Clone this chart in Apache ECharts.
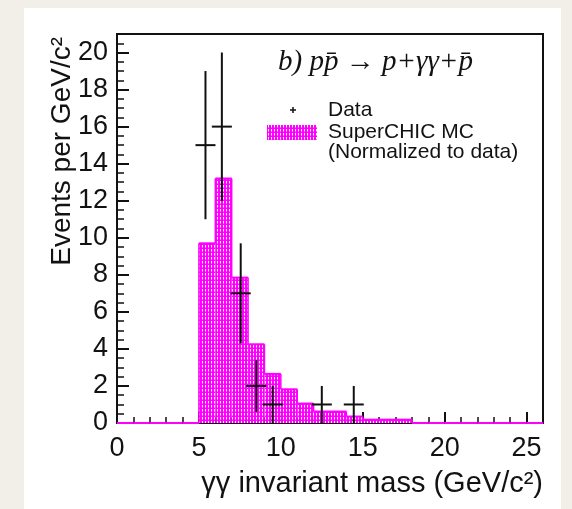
<!DOCTYPE html>
<html><head><meta charset="utf-8">
<script src="https://cdn.jsdelivr.net/npm/echarts@6/dist/echarts.min.js"></script>
<style>
html,body{margin:0;padding:0;background:#f2efe9;width:572px;height:509px;overflow:hidden;}
#panel{position:absolute;left:24px;top:8px;width:537px;height:501px;background:#fff;}
#chart{position:absolute;left:0;top:0;width:572px;height:509px;}
</style></head><body>
<div id="panel"></div><div id="chart"></div>
<script>
// ---- data ----
const mcBinLow  = [0,1,2,3,4,5,6,7,8,9,10,11,12,13,14,15,16,17,18,19,20,21,22,23,24,25];
const mcBinHigh = [1,2,3,4,5,6,7,8,9,10,11,12,13,14,15,16,17,18,19,20,21,22,23,24,25,26];
const mcValues  = [0,0,0,0,0,9.7,13.2,7.85,4.25,2.65,1.82,1.05,0.62,0.62,0.35,0.18,0.18,0.18,0,0,0,0,0,0,0,0];
const dataMass   = [5.4,6.4,7.55,8.5,9.5,12.5,14.45];
const dataEvents = [15,16,7,2,1,1,1];
const dataErrors = [4,4,2.7,1.4,1,1,1];
const xTitle = 'γγ invariant mass (GeV/c²)';
const yTitle = 'Events per GeV/c²';
const plotTitle = 'b) pp\u0304 \u2192 p+γγ+p\u0304';
const legendData = 'Data';
const legendMC = ['SuperCHIC MC', '(Normalized to data)'];

const MAG = '#ff00ff';
const pc = document.createElement('canvas'); pc.width = 3; pc.height = 4;
const g = pc.getContext('2d');
g.fillStyle = MAG; g.fillRect(0,0,3,4);
g.fillStyle = '#ffffff'; g.fillRect(1,1,1,2);
g.fillStyle = 'rgba(255,255,255,0.45)'; g.fillRect(1,3,1,1);
const pattern = {image: pc, repeat: 'repeat'};

const FONT = '"Liberation Sans", Arial, Helvetica, sans-serif';
const TXT = '#121212';
const chart = echarts.init(document.getElementById('chart'), null, {renderer:'canvas'});

const histData = mcValues.map((v,i) => [mcBinLow[i], mcBinHigh[i], v]);
const ptsData = dataMass.map((m,i) => [m, dataEvents[i], dataErrors[i]]);

chart.setOption({
  backgroundColor: 'transparent',
  animation: false,
  grid: {left:117, top:34, right:29, bottom:86, show:true, borderColor:'#111', borderWidth:2, backgroundColor:'transparent', containLabel:false},
  xAxis: [
    {type:'value', min:0, max:26, interval:5, position:'bottom',
     axisLine:{show:true, onZero:false, lineStyle:{color:'#111', width:2}},
     axisTick:{show:true, inside:true, length:11, lineStyle:{color:'#111', width:2}},
     axisLabel:{showMaxLabel:false, fontSize:27, fontFamily:FONT, color:TXT, margin:12},
     splitLine:{show:false}},
    {type:'value', min:0, max:26, interval:1, position:'bottom',
     axisLine:{show:false, onZero:false},
     axisTick:{show:true, inside:true, length:6, lineStyle:{color:'#111', width:1.5}},
     axisLabel:{show:false}, splitLine:{show:false}}
  ],
  yAxis: [
    {type:'value', min:0, max:21, interval:2, position:'left',
     axisLine:{show:true, onZero:false, lineStyle:{color:'#111', width:2}},
     axisTick:{show:true, inside:true, length:12, lineStyle:{color:'#111', width:2}},
     axisLabel:{showMaxLabel:false, fontSize:27, fontFamily:FONT, color:TXT, margin:9},
     splitLine:{show:false}},
    {type:'value', min:0, max:21, interval:0.5, position:'left',
     axisLine:{show:false, onZero:false},
     axisTick:{show:true, inside:true, length:7, lineStyle:{color:'#111', width:1.5}},
     axisLabel:{show:false}, splitLine:{show:false}}
  ],
  series: [
    {name:'SuperCHIC MC', type:'custom', xAxisIndex:0, yAxisIndex:0, data: histData, z:3,
     renderItem: function(params, api){
       const x0 = api.value(0), x1 = api.value(1), y = api.value(2);
       const i = params.dataIndex;
       const prev = i > 0 ? mcValues[i-1] : 0;
       const pTop = api.coord([x0, y]);
       const pEnd = api.coord([x1, 0]);
       const pPrev = api.coord([x0, prev]);
       const children = [];
       if (y > 0) {
         children.push({type:'rect', shape:{x:pTop[0], y:pTop[1], width:pEnd[0]-pTop[0], height:pEnd[1]-pTop[1]}, style:{fill:pattern}});
       }
       children.push({type:'line', shape:{x1:pTop[0], y1:pTop[1], x2:pEnd[0], y2:pTop[1]}, style:{stroke:MAG, lineWidth:2}});
       if (prev !== y) {
         children.push({type:'line', shape:{x1:pTop[0], y1:pPrev[1], x2:pTop[0], y2:pTop[1]}, style:{stroke:MAG, lineWidth:1.5}});
       }
       return {type:'group', children};
     }},
    {name:'Data', type:'custom', xAxisIndex:0, yAxisIndex:0, data: ptsData, z:5,
     renderItem: function(params, api){
       const x = api.value(0), y = api.value(1), e = api.value(2);
       const c = api.coord([x, y]);
       const t = api.coord([x, y + e]);
       const b = api.coord([x, Math.max(0, y - e)]);
       return {type:'group', children:[
         {type:'line', shape:{x1:c[0], y1:t[1], x2:c[0], y2:b[1]}, style:{stroke:'#111', lineWidth:2}},
         {type:'line', shape:{x1:c[0]-10, y1:c[1], x2:c[0]+10, y2:c[1]}, style:{stroke:'#111', lineWidth:2}}
       ]};
     }}
  ],
  graphic: {elements: [
    {type:'text', x:278, y:62, z:10, style:{text: plotTitle, font:'italic 29px "Liberation Serif", "DejaVu Serif", serif', fill:TXT, verticalAlign:'middle'}},
    {type:'line', z:10, shape:{x1:290, y1:110, x2:296, y2:110}, style:{stroke:'#111', lineWidth:1.5}},
    {type:'line', z:10, shape:{x1:293, y1:107, x2:293, y2:113}, style:{stroke:'#111', lineWidth:1.5}},
    {type:'text', x:328, y:110, z:10, style:{text: legendData, font:'21px '+FONT, fill:TXT, verticalAlign:'middle'}},
    {type:'rect', z:10, shape:{x:267, y:125, width:50, height:15}, style:{fill:pattern}},
    {type:'text', x:328, y:132, z:10, style:{text: legendMC[0], font:'21px '+FONT, fill:TXT, verticalAlign:'middle'}},
    {type:'text', x:328, y:152, z:10, style:{text: legendMC[1], font:'21px '+FONT, fill:TXT, verticalAlign:'middle'}},
    {type:'text', x:543, y:484, z:10, style:{text: xTitle, font:'29px '+FONT, fill:TXT, align:'right', verticalAlign:'middle'}},
    {type:'text', x:62, y:37, z:10, rotation: Math.PI/2, style:{text: yTitle, font:'28px '+FONT, fill:TXT, align:'right', verticalAlign:'middle'}}
  ]}
});
</script>
</body></html>
